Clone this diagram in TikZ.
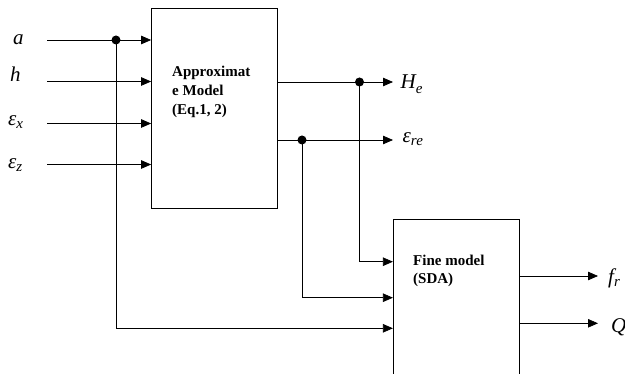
\documentclass[tikz,border=0pt]{standalone}
\usepackage{fontspec}
\setmainfont{Liberation Serif}
\usetikzlibrary{arrows.meta}
\newcommand\lsub[2][3pt]{\raisebox{-#1}{\fontsize{15}{15}\selectfont #2}}
\tikzset{
  wire/.style={line width=0.75pt, draw=black},
  arr/.style={wire, -{Triangle[length=10pt,width=8.5pt]}},
  box/.style={draw=black, line width=0.75pt, rectangle, inner sep=0pt},
  lbl/.style={anchor=base west, inner sep=0pt, font=\fontsize{21}{21}\selectfont\itshape},
  btxt/.style={anchor=north west, inner sep=0pt, align=left, font=\fontsize{15}{19}\selectfont\bfseries},
  dot/.style={circle, fill=black, inner sep=0pt, minimum size=9pt}
}
\begin{document}
\begin{tikzpicture}[x=1pt,y=-1pt]
\clip (0,0) rectangle (625,374);
% boxes
\node[box, minimum width=126pt, minimum height=200pt] (A) at (214.5,108) {};
\node[box, minimum width=126pt, minimum height=170pt] (F) at (456.3,304) {};
\node[btxt] (At) at (172,66) {Approximat\\e Model\\(Eq.1, 2)};
\node[btxt, font=\fontsize{15}{18}\selectfont\bfseries] (Ft) at (413,255) {Fine model\\(SDA)};
% input labels
\node[lbl] (la) at (13,45) {a};
\node[lbl] (lh) at (10,82) {h};
\node[lbl] (lx) at (8,125.5) {ε\lsub{x}};
\node[lbl] (lz) at (8,168.5) {ε\lsub{z}};
% input starts
\coordinate (ia) at (47,40);
\coordinate (ih) at (47,81.5);
\coordinate (ix) at (47,123.5);
\coordinate (iz) at (47,164.5);
\draw[arr] (ia) -- (ia -| A.west);
\draw[arr] (ih) -- (ih -| A.west);
\draw[arr] (ix) -- (ix -| A.west);
\draw[arr] (iz) -- (iz -| A.west);
% branch from a
\node[dot] (da) at (116,40) {};
\coordinate (f3) at (0,328.3);
\draw[arr] (da.center) |- (f3 -| F.west);
% outputs of approximate model
\coordinate (oH) at (393,82);
\coordinate (oE) at (393,140);
\draw[arr] (A.east |- oH) -- (oH);
\draw[arr] (A.east |- oE) -- (oE);
\node[dot] (dH) at (359.5,82) {};
\node[dot] (dE) at (302,140) {};
\coordinate (f1) at (0,261.7);
\coordinate (f2) at (0,297.7);
\draw[arr] (dH.center) |- (f1 -| F.west);
\draw[arr] (dE.center) |- (f2 -| F.west);
\node[lbl] (lH) at (400.5,88.3) {H\lsub[5pt]{e}};
\node[lbl] (lE) at (402.5,143) {ε\lsub{re}};
% outputs of fine model
\coordinate (of) at (598,276);
\coordinate (oQ) at (598,323.3);
\draw[arr] (F.east |- of) -- (of);
\draw[arr] (F.east |- oQ) -- (oQ);
\node[lbl] (lf) at (608,284) {f\lsub{r}};
\node[lbl] (lQ) at (611,333) {Q};
\end{tikzpicture}
\end{document}
